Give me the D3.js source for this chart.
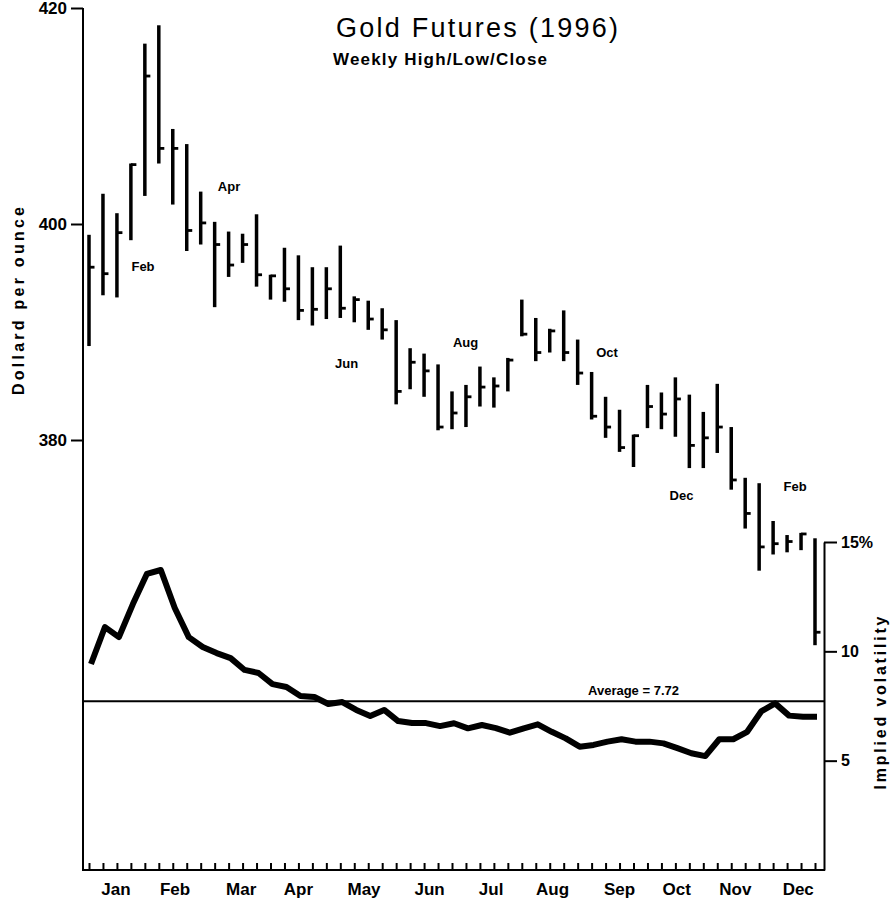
<!DOCTYPE html>
<html>
<head>
<meta charset="utf-8">
<script src="https://cdn.jsdelivr.net/npm/d3@7"></script>
<style>
  html, body { margin: 0; padding: 0; background: #fff; }
  svg { display: block; }
  text { font-family: "Liberation Sans", Arial, Helvetica, sans-serif; fill: #000; }
</style>
</head>
<body>
<svg id="chart" width="890" height="905"></svg>
<script>
// ---------- DATA ----------
const weeks = d3.range(53); // weekly bars, 1996
const highs = [399.0, 402.8, 401.0, 405.6, 416.7, 418.4, 408.8, 407.4, 403.0, 400.2,
               399.3, 399.1, 400.9, 395.3, 397.8, 397.1, 396.0, 396.0, 398.0, 393.3,
               392.9, 392.2, 391.1, 388.5, 388.0, 387.0, 384.5, 385.1, 386.8, 385.8,
               387.6, 393.0, 391.3, 390.3, 392.0, 389.3, 386.3, 384.0, 382.8, 380.5,
               385.1, 384.4, 385.8, 384.2, 382.6, 385.2, 381.2, 376.5, 376.0, 372.5,
               371.2, 371.4, 370.9];
const lows  = [388.7, 393.4, 393.2, 398.5, 402.6, 405.6, 401.8, 397.5, 398.1, 392.3,
               395.1, 396.4, 394.2, 393.0, 392.8, 391.1, 390.6, 391.2, 391.3, 390.9,
               390.2, 389.3, 383.3, 384.7, 384.0, 380.9, 381.0, 381.2, 383.1, 383.0,
               384.5, 389.6, 387.3, 388.1, 387.3, 385.1, 381.9, 380.2, 378.9, 377.5,
               381.1, 381.0, 380.3, 377.4, 377.4, 378.8, 375.4, 371.8, 367.9, 369.4,
               369.6, 369.8, 361.0];
const closes = [396.0, 395.4, 399.2, 405.5, 413.7, 407.0, 407.0, 399.4, 400.1, 398.1,
               396.2, 398.1, 395.3, 395.2, 394.0, 392.0, 392.1, 394.0, 392.2, 393.0,
               391.2, 390.2, 384.5, 387.2, 386.4, 381.2, 382.5, 384.0, 384.9, 385.0,
               387.4, 389.8, 388.1, 390.1, 388.1, 386.2, 382.2, 381.2, 379.3, 380.4,
               383.1, 382.4, 383.8, 379.5, 380.2, 381.2, 376.3, 373.2, 370.1, 370.4,
               370.6, 371.3, 362.2];
const volatility = [9.42, 11.11, 10.65, 12.16, 13.54, 13.72, 11.98, 10.65, 10.2, 9.92,
               9.69, 9.15, 9.01, 8.5, 8.37, 7.96, 7.91, 7.59, 7.68, 7.32,
               7.04, 7.32, 6.81, 6.72, 6.72, 6.58, 6.71, 6.48, 6.63, 6.49,
               6.28, 6.48, 6.66, 6.32, 6.02, 5.64, 5.72, 5.87, 5.98, 5.87,
               5.87, 5.79, 5.57, 5.34, 5.21, 5.98, 5.98, 6.32, 7.25, 7.62,
               7.06, 7.01, 7.01];
const averageVol = 7.72;

const months = ["Jan","Feb","Mar","Apr","May","Jun","Jul","Aug","Sep","Oct","Nov","Dec"];
const monthWeek = [1.93, 6.16, 10.9, 15.0, 19.7, 24.4, 28.8, 33.2, 38.0, 42.1, 46.3, 50.8];

const contractLabels = ["Feb","Apr","Jun","Aug","Oct","Dec","Feb"];
const contractWeek   = [3.87, 10.03, 18.45, 26.97, 37.1, 42.44, 50.57];
const contractPrice  = [396.05, 403.45, 387.1, 389.0, 388.1, 374.9, 375.7];

const priceTicks = [380, 400, 420];
const volTicks = [5, 10, 15];

// ---------- LAYOUT ----------
const svg = d3.select("#chart");
const axisLeftX = 83, axisRightX = 824, axisBottomY = 870;
const x = d3.scaleLinear().domain([0, 52]).range([89, 815]);
const y = d3.scaleLinear().domain([380, 420]).range([440, 8]);
const v = d3.scaleLinear().domain([0, 15]).range([axisBottomY, 542]);

// Title
svg.append("text").attr("x", 336).attr("y", 37)
  .attr("font-size", 27).attr("textLength", 282).attr("lengthAdjust", "spacing")
  .text("Gold Futures (1996)");
svg.append("text").attr("x", 333).attr("y", 65)
  .attr("font-size", 17).attr("font-weight", "bold")
  .attr("textLength", 214).attr("lengthAdjust", "spacing")
  .text("Weekly High/Low/Close");

// Axis lines (frame)
svg.append("line").attr("x1", axisLeftX).attr("x2", axisLeftX)
  .attr("y1", y(420)).attr("y2", axisBottomY + 1)
  .attr("stroke", "#000").attr("stroke-width", 2);
svg.append("line").attr("x1", axisLeftX).attr("x2", axisRightX + 1)
  .attr("y1", axisBottomY).attr("y2", axisBottomY)
  .attr("stroke", "#000").attr("stroke-width", 2.2);

// Left price axis
const gL = svg.append("g").attr("transform", `translate(${axisLeftX},0)`)
  .call(d3.axisLeft(y).tickValues(priceTicks).tickSize(12).tickSizeOuter(0).tickPadding(4));
gL.select(".domain").remove();
gL.selectAll(".tick line").attr("stroke-width", 2);
gL.selectAll(".tick text").attr("font-size", 17).attr("font-weight", "bold")
  .attr("font-family", '"Liberation Sans", Arial, sans-serif');

// Right volatility axis
const gR = svg.append("g").attr("transform", `translate(${axisRightX},0)`)
  .call(d3.axisRight(v).tickValues(volTicks).tickSize(13).tickSizeOuter(0).tickPadding(4)
    .tickFormat(d => d === 15 ? "15%" : String(d)));
gR.select(".domain").attr("stroke-width", 2);
gR.selectAll(".tick line").attr("stroke-width", 2);
gR.selectAll(".tick text").attr("font-size", 16).attr("font-weight", "bold")
  .attr("font-family", '"Liberation Sans", Arial, sans-serif');

// Bottom week ticks
const gB = svg.append("g").attr("transform", `translate(0,${axisBottomY})`)
  .call(d3.axisBottom(x).tickValues(weeks).tickSize(-7).tickSizeOuter(0).tickFormat(""));
gB.select(".domain").remove();
gB.selectAll(".tick line").attr("stroke-width", 2);

// Month labels
svg.append("g").selectAll("text").data(months).join("text")
  .attr("x", (d, i) => x(monthWeek[i])).attr("y", 895)
  .attr("text-anchor", "middle").attr("font-size", 17).attr("font-weight", "bold")
  .text(d => d);

// Axis titles
svg.append("text")
  .attr("transform", "translate(24,301) rotate(-90)")
  .attr("text-anchor", "middle").attr("font-size", 16).attr("font-weight", "bold")
  .attr("textLength", 188).attr("lengthAdjust", "spacing")
  .text("Dollard per ounce");
svg.append("text")
  .attr("transform", "translate(886,703) rotate(-90)")
  .attr("text-anchor", "middle").attr("font-size", 16).attr("font-weight", "bold")
  .attr("textLength", 173).attr("lengthAdjust", "spacing")
  .text("Implied volatility");

// High/Low/Close bars
const bars = svg.append("g");
bars.selectAll("line.hl").data(weeks).join("line").attr("class", "hl")
  .attr("x1", d => x(d)).attr("x2", d => x(d))
  .attr("y1", d => y(highs[d])).attr("y2", d => y(lows[d]))
  .attr("stroke", "#000").attr("stroke-width", 3.5);
bars.selectAll("line.cl").data(weeks).join("line").attr("class", "cl")
  .attr("x1", d => x(d)).attr("x2", d => x(d) + 5.5)
  .attr("y1", d => y(closes[d])).attr("y2", d => y(closes[d]))
  .attr("stroke", "#000").attr("stroke-width", 2.8);

// Contract-month annotations
svg.append("g").selectAll("text").data(contractLabels).join("text")
  .attr("x", (d, i) => x(contractWeek[i])).attr("y", (d, i) => y(contractPrice[i]))
  .attr("dy", "0.36em").attr("text-anchor", "middle")
  .attr("font-size", 13).attr("font-weight", "bold").text(d => d);

// Average line
svg.append("line").attr("x1", axisLeftX).attr("x2", axisRightX)
  .attr("y1", v(averageVol)).attr("y2", v(averageVol))
  .attr("stroke", "#000").attr("stroke-width", 2);
svg.append("text").attr("x", x(39)).attr("y", v(averageVol) - 6)
  .attr("text-anchor", "middle").attr("font-size", 13).attr("font-weight", "bold")
  .text("Average = " + averageVol.toFixed(2));

// Implied volatility line
const line = d3.line().x(d => x(d) + 2).y(d => v(volatility[d]));
svg.append("path").datum(weeks).attr("d", line)
  .attr("fill", "none").attr("stroke", "#000").attr("stroke-width", 6)
  .attr("stroke-linejoin", "round").attr("stroke-linecap", "butt");
</script>
</body>
</html>
